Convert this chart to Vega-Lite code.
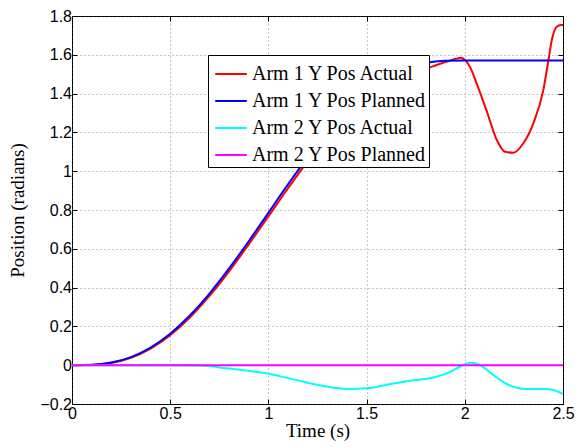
{
  "$schema": "https://vega.github.io/schema/vega-lite/v6.json",
  "width": 491,
  "height": 388,
  "autosize": {"type": "none"},
  "padding": {"left": 72, "top": 16, "right": 14, "bottom": 44},
  "background": "white",
  "config": {
    "view": {"stroke": "black", "strokeWidth": 1},
    "axis": {
      "domain": false,
      "tickColor": "black",
      "tickSize": -5,
      "labelFlush": false,
      "labelFont": "Liberation Sans",
      "labelFontSize": 16,
      "labelColor": "black",
      "titleFont": "Liberation Serif",
      "titleFontSize": 19,
      "titleFontWeight": "normal",
      "titleColor": "black",
      "gridColor": "#444",
      "gridOpacity": 0.6,
      "gridDash": [1, 3],
      "gridWidth": 1
    }
  },
  "data": {
    "values": [
      {"s": "Arm 1 Y Pos Actual", "t": 0, "v": 0},
      {"s": "Arm 1 Y Pos Actual", "t": 0.1, "v": 0.001},
      {"s": "Arm 1 Y Pos Actual", "t": 0.2, "v": 0.011},
      {"s": "Arm 1 Y Pos Actual", "t": 0.3, "v": 0.038},
      {"s": "Arm 1 Y Pos Actual", "t": 0.4, "v": 0.086},
      {"s": "Arm 1 Y Pos Actual", "t": 0.5, "v": 0.155},
      {"s": "Arm 1 Y Pos Actual", "t": 0.6, "v": 0.246},
      {"s": "Arm 1 Y Pos Actual", "t": 0.7, "v": 0.357},
      {"s": "Arm 1 Y Pos Actual", "t": 0.8, "v": 0.484},
      {"s": "Arm 1 Y Pos Actual", "t": 0.9, "v": 0.623},
      {"s": "Arm 1 Y Pos Actual", "t": 1.0, "v": 0.767},
      {"s": "Arm 1 Y Pos Actual", "t": 1.1, "v": 0.912},
      {"s": "Arm 1 Y Pos Actual", "t": 1.2, "v": 1.052},
      {"s": "Arm 1 Y Pos Actual", "t": 1.3, "v": 1.18},
      {"s": "Arm 1 Y Pos Actual", "t": 1.4, "v": 1.29},
      {"s": "Arm 1 Y Pos Actual", "t": 1.5, "v": 1.38},
      {"s": "Arm 1 Y Pos Actual", "t": 1.6, "v": 1.45},
      {"s": "Arm 1 Y Pos Actual", "t": 1.7, "v": 1.50},
      {"s": "Arm 1 Y Pos Actual", "t": 1.8, "v": 1.528},
      {"s": "Arm 1 Y Pos Actual", "t": 1.85, "v": 1.545},
      {"s": "Arm 1 Y Pos Actual", "t": 1.9, "v": 1.562},
      {"s": "Arm 1 Y Pos Actual", "t": 1.95, "v": 1.578},
      {"s": "Arm 1 Y Pos Actual", "t": 1.98, "v": 1.585},
      {"s": "Arm 1 Y Pos Actual", "t": 2.0, "v": 1.575},
      {"s": "Arm 1 Y Pos Actual", "t": 2.03, "v": 1.53},
      {"s": "Arm 1 Y Pos Actual", "t": 2.06, "v": 1.453},
      {"s": "Arm 1 Y Pos Actual", "t": 2.11, "v": 1.315},
      {"s": "Arm 1 Y Pos Actual", "t": 2.163, "v": 1.161},
      {"s": "Arm 1 Y Pos Actual", "t": 2.205, "v": 1.1},
      {"s": "Arm 1 Y Pos Actual", "t": 2.247, "v": 1.095},
      {"s": "Arm 1 Y Pos Actual", "t": 2.298, "v": 1.144},
      {"s": "Arm 1 Y Pos Actual", "t": 2.349, "v": 1.247},
      {"s": "Arm 1 Y Pos Actual", "t": 2.4, "v": 1.419},
      {"s": "Arm 1 Y Pos Actual", "t": 2.426, "v": 1.573},
      {"s": "Arm 1 Y Pos Actual", "t": 2.443, "v": 1.676},
      {"s": "Arm 1 Y Pos Actual", "t": 2.468, "v": 1.745},
      {"s": "Arm 1 Y Pos Actual", "t": 2.49, "v": 1.754},
      {"s": "Arm 1 Y Pos Actual", "t": 2.5, "v": 1.754},
      {"s": "Arm 1 Y Pos Planned", "t": 0, "v": 0},
      {"s": "Arm 1 Y Pos Planned", "t": 0.1, "v": 0.0018},
      {"s": "Arm 1 Y Pos Planned", "t": 0.2, "v": 0.0134},
      {"s": "Arm 1 Y Pos Planned", "t": 0.3, "v": 0.0418},
      {"s": "Arm 1 Y Pos Planned", "t": 0.4, "v": 0.091},
      {"s": "Arm 1 Y Pos Planned", "t": 0.5, "v": 0.1626},
      {"s": "Arm 1 Y Pos Planned", "t": 0.6, "v": 0.2562},
      {"s": "Arm 1 Y Pos Planned", "t": 0.7, "v": 0.3694},
      {"s": "Arm 1 Y Pos Planned", "t": 0.8, "v": 0.4986},
      {"s": "Arm 1 Y Pos Planned", "t": 0.9, "v": 0.6391},
      {"s": "Arm 1 Y Pos Planned", "t": 1.0, "v": 0.7854},
      {"s": "Arm 1 Y Pos Planned", "t": 1.1, "v": 0.9317},
      {"s": "Arm 1 Y Pos Planned", "t": 1.2, "v": 1.0722},
      {"s": "Arm 1 Y Pos Planned", "t": 1.3, "v": 1.2014},
      {"s": "Arm 1 Y Pos Planned", "t": 1.4, "v": 1.3146},
      {"s": "Arm 1 Y Pos Planned", "t": 1.5, "v": 1.4082},
      {"s": "Arm 1 Y Pos Planned", "t": 1.6, "v": 1.4798},
      {"s": "Arm 1 Y Pos Planned", "t": 1.7, "v": 1.529},
      {"s": "Arm 1 Y Pos Planned", "t": 1.8, "v": 1.5574},
      {"s": "Arm 1 Y Pos Planned", "t": 1.9, "v": 1.569},
      {"s": "Arm 1 Y Pos Planned", "t": 2.0, "v": 1.5708},
      {"s": "Arm 1 Y Pos Planned", "t": 2.5, "v": 1.5708},
      {"s": "Arm 2 Y Pos Actual", "t": 0, "v": 0},
      {"s": "Arm 2 Y Pos Actual", "t": 0.5, "v": 0},
      {"s": "Arm 2 Y Pos Actual", "t": 0.65, "v": -0.002},
      {"s": "Arm 2 Y Pos Actual", "t": 0.788, "v": -0.016},
      {"s": "Arm 2 Y Pos Actual", "t": 0.99, "v": -0.042},
      {"s": "Arm 2 Y Pos Actual", "t": 1.127, "v": -0.073},
      {"s": "Arm 2 Y Pos Actual", "t": 1.297, "v": -0.11},
      {"s": "Arm 2 Y Pos Actual", "t": 1.415, "v": -0.123},
      {"s": "Arm 2 Y Pos Actual", "t": 1.5, "v": -0.119},
      {"s": "Arm 2 Y Pos Actual", "t": 1.636, "v": -0.094},
      {"s": "Arm 2 Y Pos Actual", "t": 1.721, "v": -0.08},
      {"s": "Arm 2 Y Pos Actual", "t": 1.84, "v": -0.063},
      {"s": "Arm 2 Y Pos Actual", "t": 1.908, "v": -0.042},
      {"s": "Arm 2 Y Pos Actual", "t": 1.975, "v": -0.008},
      {"s": "Arm 2 Y Pos Actual", "t": 2.026, "v": 0.013},
      {"s": "Arm 2 Y Pos Actual", "t": 2.077, "v": 0.001},
      {"s": "Arm 2 Y Pos Actual", "t": 2.145, "v": -0.05},
      {"s": "Arm 2 Y Pos Actual", "t": 2.213, "v": -0.097},
      {"s": "Arm 2 Y Pos Actual", "t": 2.315, "v": -0.123},
      {"s": "Arm 2 Y Pos Actual", "t": 2.417, "v": -0.123},
      {"s": "Arm 2 Y Pos Actual", "t": 2.45, "v": -0.128},
      {"s": "Arm 2 Y Pos Actual", "t": 2.5, "v": -0.148},
      {"s": "Arm 2 Y Pos Planned", "t": 0, "v": 0},
      {"s": "Arm 2 Y Pos Planned", "t": 2.5, "v": 0}
    ]
  },
  "layer": [
    {
      "mark": {"type": "line", "strokeWidth": 2, "interpolate": "monotone"},
      "encoding": {
        "x": {
          "field": "t", "type": "quantitative",
          "scale": {"domain": [0, 2.5], "nice": false, "zero": false},
          "axis": {"values": [0, 0.5, 1, 1.5, 2, 2.5], "format": "~g", "title": "Time (s)", "labelPadding": 6, "titlePadding": 0}
        },
        "y": {
          "field": "v", "type": "quantitative",
          "scale": {"domain": [-0.2, 1.8], "nice": false, "zero": false},
          "axis": {"values": [-0.2, 0, 0.2, 0.4, 0.6, 0.8, 1, 1.2, 1.4, 1.6, 1.8], "format": "~g", "title": "Position (radians)", "labelPadding": 5.5, "titlePadding": 12}
        },
        "color": {
          "field": "s", "type": "nominal",
          "scale": {
            "domain": ["Arm 1 Y Pos Actual", "Arm 1 Y Pos Planned", "Arm 2 Y Pos Actual", "Arm 2 Y Pos Planned"],
            "range": ["#ff0000", "#0000ff", "#00ffff", "#ff00ff"]
          },
          "legend": {
            "orient": "none", "legendX": 136, "legendY": 39,
            "title": null,
            "strokeColor": "black", "fillColor": "white",
            "padding": 2,
            "symbolType": "stroke", "symbolSize": 1000, "symbolStrokeWidth": 2,
            "symbolOffset": 4,
            "labelFont": "Liberation Serif", "labelFontSize": 20, "labelColor": "black",
            "labelOffset": 4, "rowPadding": -6, "labelLimit": 300
          }
        }
      }
    },
    {
      "mark": {"type": "line", "opacity": 0},
      "encoding": {
        "x": {
          "field": "t", "type": "quantitative",
          "axis": {"orient": "top", "values": [0, 0.5, 1, 1.5, 2, 2.5], "labels": false, "title": null, "grid": false}
        },
        "y": {
          "field": "v", "type": "quantitative",
          "axis": {"orient": "right", "values": [-0.2, 0, 0.2, 0.4, 0.6, 0.8, 1, 1.2, 1.4, 1.6, 1.8], "labels": false, "title": null, "grid": false}
        },
        "detail": {"field": "s"}
      }
    }
  ],
  "resolve": {"axis": {"x": "independent", "y": "independent"}}
}
